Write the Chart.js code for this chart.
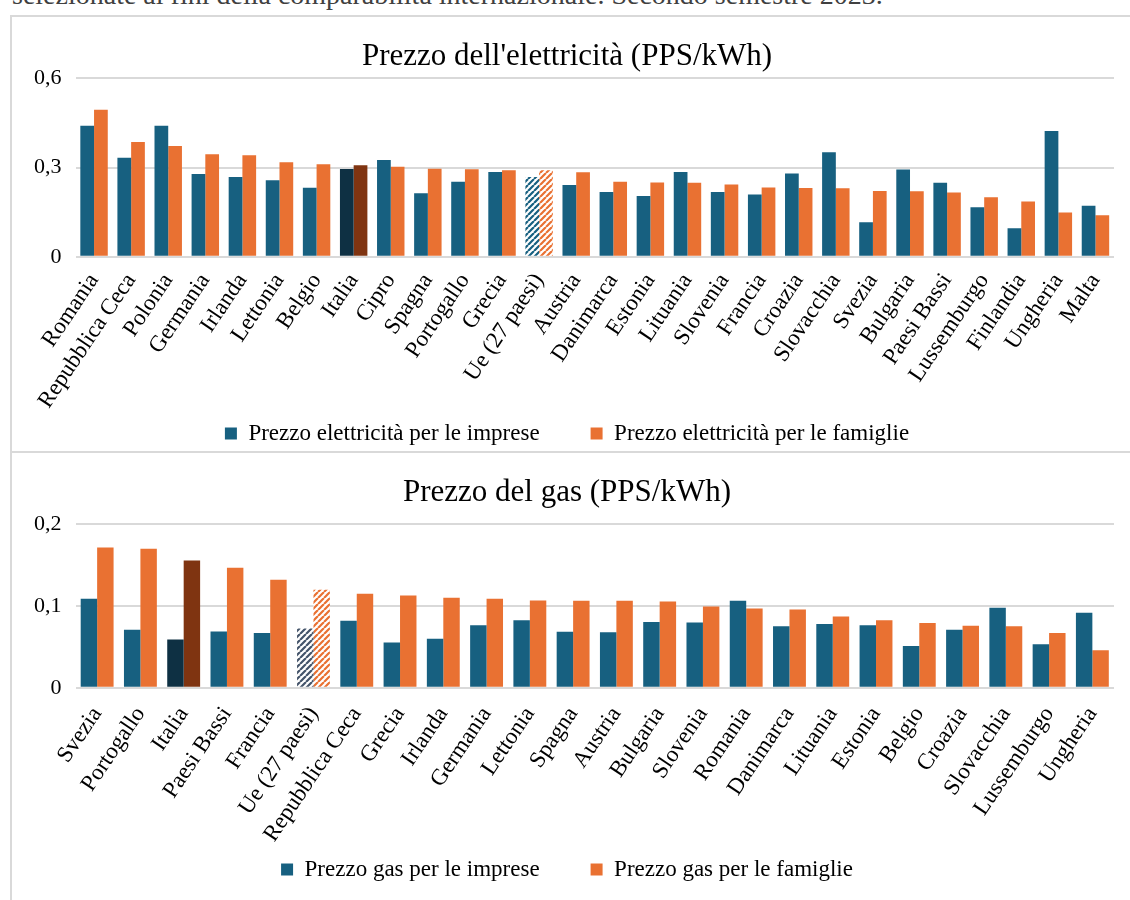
<!DOCTYPE html>
<html lang="it">

<head>
    <meta charset="UTF-8">
    <title>Prezzi energia PPS</title>
    <script src="https://cdn.jsdelivr.net/npm/chart.js@4.4.1/dist/chart.umd.min.js"></script>
    <style>
        body { margin: 0; background: #fff; width: 1130px; height: 900px; overflow: hidden; position: relative; font-family: "Liberation Serif", serif; }
        #nota { position: absolute; left: 12px; top: -21px; font-size: 28px; color: #404040; white-space: nowrap; }
        #cornice { position: absolute; left: 10px; top: 15px; width: 1130px; height: 900px; border-left: 2px solid #d9d9d9; border-top: 2px solid #d9d9d9; box-sizing: border-box; }
        #divisore { position: absolute; left: 10px; top: 451px; width: 1130px; height: 2px; background: #d9d9d9; }
        canvas { position: absolute; left: 12px; }
    </style>
</head>

<body>
    <div id="nota">selezionate ai fini della comparabilità internazionale. Secondo semestre 2023.</div>
    <div id="cornice"></div>
    <div id="divisore"></div>
    <canvas id="elettricita" width="1118" height="438" style="top:17px"></canvas>
    <canvas id="gas" width="1118" height="446" style="top:454px"></canvas>

    <script>
        // elettricità
        const paesiEl = ['Romania', 'Repubblica Ceca', 'Polonia', 'Germania', 'Irlanda', 'Lettonia', 'Belgio', 'Italia',
            'Cipro', 'Spagna', 'Portogallo', 'Grecia', 'Ue (27 paesi)', 'Austria', 'Danimarca', 'Estonia', 'Lituania',
            'Slovenia', 'Francia', 'Croazia', 'Slovacchia', 'Svezia', 'Bulgaria', 'Paesi Bassi', 'Lussemburgo',
            'Finlandia', 'Ungheria', 'Malta'];
        const elImprese = [0.440, 0.333, 0.440, 0.278, 0.268, 0.257, 0.232, 0.295, 0.325, 0.214, 0.252, 0.285, 0.268,
            0.241, 0.218, 0.204, 0.285, 0.218, 0.209, 0.280, 0.351, 0.116, 0.293, 0.249, 0.167, 0.096, 0.423, 0.172];
        const elFamiglie = [0.494, 0.386, 0.372, 0.345, 0.341, 0.318, 0.311, 0.308, 0.303, 0.296, 0.294, 0.291, 0.291,
            0.284, 0.252, 0.250, 0.249, 0.243, 0.233, 0.231, 0.230, 0.221, 0.220, 0.216, 0.200, 0.186, 0.149, 0.140];

        // gas
        const paesiGas = ['Svezia', 'Portogallo', 'Italia', 'Paesi Bassi', 'Francia', 'Ue (27 paesi)', 'Repubblica Ceca',
            'Grecia', 'Irlanda', 'Germania', 'Lettonia', 'Spagna', 'Austria', 'Bulgaria', 'Slovenia', 'Romania',
            'Danimarca', 'Lituania', 'Estonia', 'Belgio', 'Croazia', 'Slovacchia', 'Lussemburgo', 'Ungheria'];
        const gasImprese = [0.109, 0.071, 0.059, 0.069, 0.067, 0.0725, 0.082, 0.0555, 0.060, 0.0765, 0.0825, 0.0685,
            0.068, 0.0805, 0.080, 0.1063, 0.0753, 0.078, 0.0766, 0.0513, 0.071, 0.0978, 0.0533, 0.0917];
        const gasFamiglie = [0.1715, 0.170, 0.1556, 0.1467, 0.132, 0.120, 0.115, 0.113, 0.110, 0.109, 0.1067, 0.1063,
            0.1063, 0.1055, 0.0994, 0.097, 0.0957, 0.0872, 0.0827, 0.0794, 0.0758, 0.0753, 0.067, 0.046];

        const BLU = '#176080', ARANCIO = '#e97132';
        const BLU_SCURO = '#0e3043', ARANCIO_SCURO = '#7f3411';
        const FONT = '"Liberation Serif", serif';

        //tratteggio per la media Ue
        function tratteggio(colore) {
            const c = document.createElement('canvas');
            c.width = 6; c.height = 6;
            const g = c.getContext('2d');
            g.fillStyle = '#fff';
            g.fillRect(0, 0, 6, 6);
            g.strokeStyle = colore;
            g.lineWidth = 2.2;
            g.beginPath();
            for (let k = -1; k <= 1; k++) {
                g.moveTo(k * 6, 6);
                g.lineTo(k * 6 + 6, 0);
            }
            g.stroke();
            return g.createPattern(c, 'repeat');
        }

        function colori(paesi, base, scuro, ue) {
            return paesi.map(p => p === 'Italia' ? scuro : (p.startsWith('Ue') ? ue : base));
        }

        function virgola(v) {
            return v === 0 ? '0' : v.toFixed(1).replace('.', ',');
        }

        function grafico(id, titolo, paesi, imprese, famiglie, etichette, max, passo, ueBlu, catPerc, pad, titoloPad, tickPad) {
            return new Chart(document.getElementById(id), {
                type: 'bar',
                data: {
                    labels: paesi,
                    datasets: [{
                        label: etichette[0],
                        data: imprese,
                        backgroundColor: colori(paesi, BLU, BLU_SCURO, tratteggio(ueBlu)),
                        borderWidth: 0,
                    }, {
                        label: etichette[1],
                        data: famiglie,
                        backgroundColor: colori(paesi, ARANCIO, ARANCIO_SCURO, tratteggio(ARANCIO)),
                        borderWidth: 0,
                    }],
                },
                options: {
                    responsive: false,
                    animation: false,
                    layout: { padding: pad },
                    datasets: { bar: { categoryPercentage: catPerc, barPercentage: 1 } },
                    plugins: {
                        title: {
                            display: true,
                            text: titolo,
                            color: '#000',
                            font: { family: FONT, size: 31, weight: 'normal' },
                            padding: titoloPad,
                        },
                        legend: {
                            position: 'bottom',
                            labels: {
                                color: '#000',
                                font: { family: FONT, size: 23 },
                                boxWidth: 12,
                                boxHeight: 12,
                                padding: 5,
                                generateLabels: (chart) => chart.data.datasets.map((ds, i) => ({
                                    // spazio tra le due voci
                                    text: i === 0 ? ds.label + '\u2003\u2003' : ds.label,
                                    fillStyle: i === 0 ? BLU : ARANCIO,
                                    strokeStyle: i === 0 ? BLU : ARANCIO,
                                    lineWidth: 0,
                                    datasetIndex: i,
                                })),
                            },
                        },
                        tooltip: { enabled: false },
                    },
                    scales: {
                        x: {
                            grid: { display: false },
                            border: { display: false },
                            ticks: {
                                color: '#000',
                                font: { family: FONT, size: 23 },
                                minRotation: 56,
                                maxRotation: 56,
                                autoSkip: false,
                                padding: tickPad,
                            },
                        },
                        y: {
                            min: 0,
                            max: max,
                            border: { display: false },
                            grid: { color: '#d9d9d9', lineWidth: 2, drawTicks: false },
                            ticks: {
                                stepSize: passo,
                                color: '#000',
                                font: { family: FONT, size: 22 },
                                padding: 14,
                                callback: virgola,
                            },
                        },
                    },
                },
            });
        }

        grafico('elettricita', "Prezzo dell'elettricità (PPS/kWh)", paesiEl, elImprese, elFamiglie,
            ['Prezzo elettricità per le imprese', 'Prezzo elettricità per le famiglie'], 0.6, 0.3, BLU, 0.74,
            { left: 8, right: 16, top: 0, bottom: 0 }, { top: 21, bottom: 3 }, 3.5);
        grafico('gas', 'Prezzo del gas (PPS/kWh)', paesiGas, gasImprese, gasFamiglie,
            ['Prezzo gas per le imprese', 'Prezzo gas per le famiglie'], 0.2, 0.1, '#44546a', 0.76,
            { left: 8, right: 16, top: 0, bottom: 9 }, { top: 20, bottom: 13 }, 6);
    </script>
</body>

</html>
